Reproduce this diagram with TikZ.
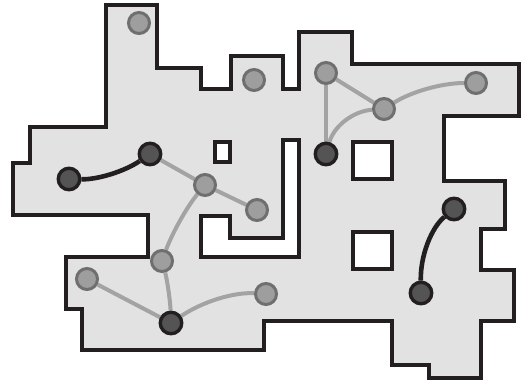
\documentclass[tikz,border=0pt]{standalone}
\pgfdeclarelayer{back}
\pgfdeclarelayer{edges}
\pgfsetlayers{back,edges,main}
\definecolor{floorfill}{HTML}{E2E2E2}
\definecolor{wall}{HTML}{231F20}
\definecolor{lightnode}{HTML}{9E9E9E}
\definecolor{lightborder}{HTML}{6F6F6F}
\definecolor{darknode}{HTML}{545454}
\definecolor{lightedge}{HTML}{A3A3A3}
\tikzset{
  wallline/.style={draw=wall, line width=3.6pt, line join=miter},
  lnode/.style={circle, fill=lightnode, draw=lightborder, line width=3pt, minimum size=21pt, inner sep=0pt},
  dnode/.style={circle, fill=darknode, draw=wall, line width=3.4pt, minimum size=21.5pt, inner sep=0pt},
  ledge/.style={draw=lightedge, line width=4pt},
  dedge/.style={draw=wall, line width=4.6pt},
}
\begin{document}
\begin{tikzpicture}[x=1pt,y=-1pt]
\useasboundingbox (0,0) rectangle (523,388);
% nodes
\node[lnode] (g1) at (139,23) {};
\node[lnode] (g2) at (254,80) {};
\node[lnode] (g3) at (326,73) {};
\node[lnode] (g4) at (384,109) {};
\node[lnode] (g5) at (476,83) {};
\node[lnode] (g6) at (205,185) {};
\node[lnode] (g7) at (257,210) {};
\node[lnode] (g8) at (162,261) {};
\node[lnode] (g9) at (87,279) {};
\node[lnode] (g10) at (266,294) {};
\node[dnode] (d1) at (69,179) {};
\node[dnode] (d2) at (150,154) {};
\node[dnode] (d3) at (326,154) {};
\node[dnode] (d4) at (171,323) {};
\node[dnode] (d5) at (454,209) {};
\node[dnode] (d6) at (421,293) {};
\begin{pgfonlayer}{back}
\path[wallline, fill=floorfill, even odd rule]
  (106,5) -- (157,5) -- (157,68) -- (201,68) -- (201,89) -- (231,89) -- (231,56)
  -- (283,56) -- (283,89) -- (299,89) -- (299,32) -- (352,32) -- (352,64)
  -- (519,64) -- (519,116) -- (444,116) -- (444,181) -- (505,181) -- (505,229)
  -- (481,229) -- (481,270) -- (514,270) -- (514,321) -- (481,321) -- (481,378)
  -- (429,378) -- (429,365) -- (392,365) -- (392,321) -- (264,321) -- (264,350)
  -- (82,350) -- (82,309) -- (66,309) -- (66,257) -- (148,257) -- (148,215)
  -- (13,215) -- (13,163) -- (30,163) -- (30,127) -- (106,127) -- cycle
  (215,142) rectangle (230,162)
  (353,142) rectangle (392,179)
  (353,232) rectangle (392,269)
  (201,216) -- (230,216) -- (230,238) -- (283,238) -- (283,140) -- (299,140)
  -- (299,257) -- (201,257) -- cycle;
\end{pgfonlayer}
\begin{pgfonlayer}{edges}
\draw[dedge] (d1) .. controls (97.7,179.7) and (124.7,171.3) .. (d2);
\draw[dedge] (d5) .. controls (431.3,227.7) and (420.3,255.7) .. (d6);
\draw[ledge] (d2) -- (g6);
\draw[ledge] (g6) -- (g7);
\draw[ledge] (g6) .. controls (186.3,207.7) and (172,233.7) .. (g8);
\draw[ledge] (g8) .. controls (167.3,280.3) and (170.3,301.7) .. (d4);
\draw[ledge] (g9) -- (d4);
\draw[ledge] (d4) .. controls (202.3,301.7) and (234,292) .. (g10);
\draw[ledge] (g3) -- (d3);
\draw[ledge] (g3) -- (g4);
\draw[ledge] (d3) .. controls (334,126) and (353.3,111) .. (g4);
\draw[ledge] (g4) .. controls (411.3,91.7) and (442,83) .. (g5);
\end{pgfonlayer}
\end{tikzpicture}
\end{document}
